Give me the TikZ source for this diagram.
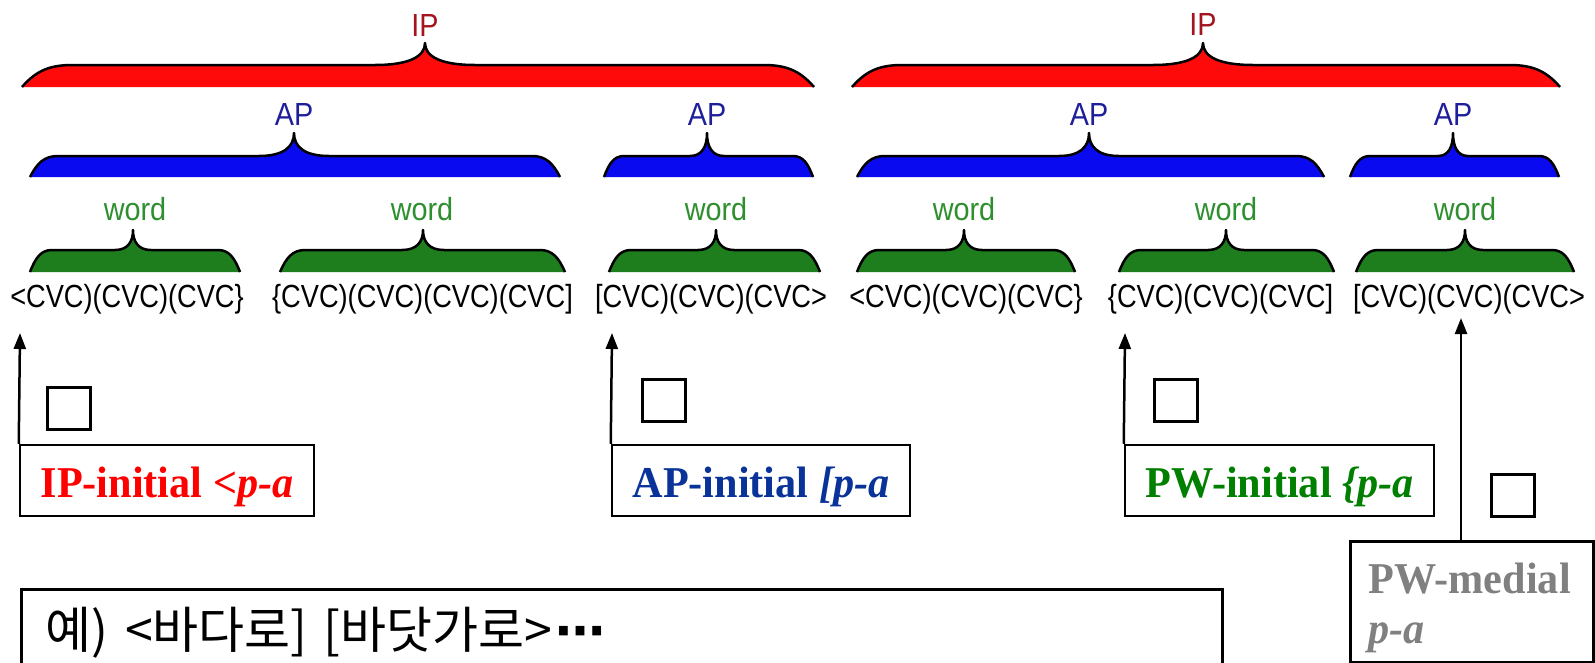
\documentclass[tikz,border=0pt]{standalone}
\usepackage{fontspec}
\setmainfont{Liberation Serif}
\newfontfamily\lblfont{Liberation Sans}[FakeStretch=0.9]
\newfontfamily\cvcfont{Liberation Sans}[FakeStretch=0.85]
\newfontfamily\boxfont{Liberation Serif}[FakeStretch=0.96]
\newfontfamily\kofont{Noto Sans CJK KR}
\newfontfamily\symfont{DejaVu Sans}
\usetikzlibrary{arrows.meta}
\definecolor{iplbl}{HTML}{A3141E}
\definecolor{aplbl}{HTML}{1F1F9C}
\definecolor{wlbl}{HTML}{2E8F2E}
\definecolor{ipfill}{HTML}{FF0A0A}
\definecolor{apfill}{HTML}{0A0AF0}
\definecolor{wfill}{HTML}{1E7E1E}
\definecolor{txred}{HTML}{FF0000}
\definecolor{txblue}{HTML}{0A3399}
\definecolor{txgreen}{HTML}{007F00}
\definecolor{txgray}{HTML}{808080}
% #1 x1, #2 x2, #3 xtip, #4 ytip, #5 yflat, #6 ybot, #7 end radius, #8 cusp half width, #9 colour
\newcommand\pbrace[9]{%
  \fill[#9] (#1,#6) .. controls ({#1+0.25*#7},{#5+0.35*(#6-#5)}) and ({#1+0.5*#7},#5) .. ({#1+#7},#5)
    -- ({#3-#8},#5) .. controls ({#3-0.3*#8},#5) and (#3,{#5-0.4*(#5-#4)}) .. (#3,#4)
    .. controls (#3,{#5-0.4*(#5-#4)}) and ({#3+0.3*#8},#5) .. ({#3+#8},#5)
    -- ({#2-#7},#5) .. controls ({#2-0.5*#7},#5) and ({#2-0.25*#7},{#5+0.35*(#6-#5)}) .. (#2,#6) -- cycle;
  \draw[black, line width=2.5pt, line join=round] (#1,#6) .. controls ({#1+0.25*#7},{#5+0.35*(#6-#5)}) and ({#1+0.5*#7},#5) .. ({#1+#7},#5)
    -- ({#3-#8},#5) .. controls ({#3-0.3*#8},#5) and (#3,{#5-0.4*(#5-#4)}) .. (#3,#4)
    .. controls (#3,{#5-0.4*(#5-#4)}) and ({#3+0.3*#8},#5) .. ({#3+#8},#5)
    -- ({#2-#7},#5) .. controls ({#2-0.5*#7},#5) and ({#2-0.25*#7},{#5+0.35*(#6-#5)}) .. (#2,#6);
}
\begin{document}
\begin{tikzpicture}[x=1pt,y=-1pt,
  lbl/.style={font=\lblfont\fontsize{32}{34}\selectfont, inner sep=0pt, anchor=base},
  cvc/.style={font=\cvcfont\fontsize{32}{34}\selectfont, inner sep=0pt, anchor=base},
  infobox/.style={draw, line width=2.5pt, inner sep=0pt, text height=33pt, text depth=0pt,
    minimum height=71pt, font=\boxfont\bfseries\fontsize{44}{48}\selectfont},
  tofu/.style={draw, line width=3pt, minimum width=43pt, minimum height=42pt, inner sep=0pt},
  uparrow/.style={line width=2.5pt, -{Triangle[length=16pt,width=12pt]}}]
\useasboundingbox (0,0) rectangle (1595,662);
\clip (0,0) rectangle (1595,662);
% IP braces
\pbrace{22}{814}{425}{43}{65}{87}{50}{50}{ipfill}
\pbrace{852}{1560}{1203}{43}{65}{87}{50}{50}{ipfill}
% AP braces
\pbrace{30}{560}{294}{133}{156}{177}{28}{35}{apfill}
\pbrace{604}{813}{707}{133}{156}{177}{20}{17}{apfill}
\pbrace{857}{1324}{1089}{133}{156}{177}{28}{30}{apfill}
\pbrace{1350}{1559}{1453}{133}{156}{177}{20}{15}{apfill}
% word braces
\pbrace{30}{240}{133}{230}{250}{272}{22}{18}{wfill}
\pbrace{280}{565}{423}{230}{250}{272}{25}{21}{wfill}
\pbrace{609}{820}{716}{230}{250}{272}{22}{18}{wfill}
\pbrace{857}{1075}{964}{230}{250}{272}{22}{18}{wfill}
\pbrace{1119}{1334}{1226}{230}{250}{272}{22}{18}{wfill}
\pbrace{1356}{1574}{1465}{230}{250}{272}{22}{18}{wfill}
% labels
\node[lbl, text=iplbl] (ip1) at (425,36) {IP};
\node[lbl, text=iplbl] (ip2) at (1203,35) {IP};
\node[lbl, text=aplbl] (ap1) at (294,125) {AP};
\node[lbl, text=aplbl] (ap2) at (707,125) {AP};
\node[lbl, text=aplbl] (ap3) at (1089,125) {AP};
\node[lbl, text=aplbl] (ap4) at (1453,125) {AP};
\node[lbl, text=wlbl] (w1) at (135,220) {word};
\node[lbl, text=wlbl] (w2) at (422,220) {word};
\node[lbl, text=wlbl] (w3) at (716,220) {word};
\node[lbl, text=wlbl] (w4) at (964,220) {word};
\node[lbl, text=wlbl] (w5) at (1226,220) {word};
\node[lbl, text=wlbl] (w6) at (1465,220) {word};
% syllable strings
\node[cvc] (c1) at (127,307) {<CVC)(CVC)(CVC\}};
\node[cvc] (c2) at (422.5,307) {\{CVC)(CVC)(CVC)(CVC]};
\node[cvc] (c3) at (711,307) {[CVC)(CVC)(CVC>};
\node[cvc] (c4) at (966,307) {<CVC)(CVC)(CVC\}};
\node[cvc] (c5) at (1220.5,307) {\{CVC)(CVC)(CVC]};
\node[cvc] (c6) at (1469,307) {[CVC)(CVC)(CVC>};
% boxes
\node[infobox, minimum width=294pt, text=txred] (b1) at (167,480.5) {IP-initial \textit{<p-a}};
\node[infobox, minimum width=298pt, text=txblue] (b2) at (761,480.5) {AP-initial \textit{[p-a}};
\node[infobox, minimum width=309pt, text=txgreen] (b3) at (1279.5,480.5) {PW-initial \textit{\{p-a}};
\node[draw, line width=2.5pt, anchor=north west, minimum width=243pt, minimum height=121pt, inner sep=0pt] (b4) at (1349,540) {};
\node[anchor=base west, inner sep=0pt, text=txgray, font=\boxfont\bfseries\fontsize{44}{48}\selectfont] (b4t) at (1368,593) {PW-medial};
\node[anchor=base west, inner sep=0pt, text=txgray, font=\boxfont\bfseries\fontsize{44}{48}\selectfont] (b4u) at (1368,643) {\textit{p-a}};
% arrows
\coordinate (t1) at (20,333);
\coordinate (t2) at (612,333);
\coordinate (t3) at (1125,333);
\coordinate (t4) at (1461,318);
\draw[uparrow] (b1.north west) -- (t1);
\draw[uparrow] (b2.north west) -- (t2);
\draw[uparrow] (b3.north west) -- (t3);
\draw[uparrow] (t4 |- b4.north) -- (t4);
% empty glyph boxes
\node[tofu] (sq1) at (68.5,408) {};
\node[tofu] (sq2) at (664,400) {};
\node[tofu] (sq3) at (1176,400) {};
\node[tofu] (sq4) at (1512.5,495.5) {};
% example box
\node[draw, line width=2.5pt, anchor=north west, minimum width=1201pt, minimum height=120pt, inner sep=0pt] (kb) at (20,588) {};
\node[anchor=base west, inner sep=0pt, font=\kofont\fontsize{50}{54}\selectfont] (kt) at (45,648) {예)\hspace{17pt}<바다로]\hspace{16pt}[바닷가로>\hspace{3pt}{\symfont\bfseries ⋯}};
\end{tikzpicture}
\end{document}
